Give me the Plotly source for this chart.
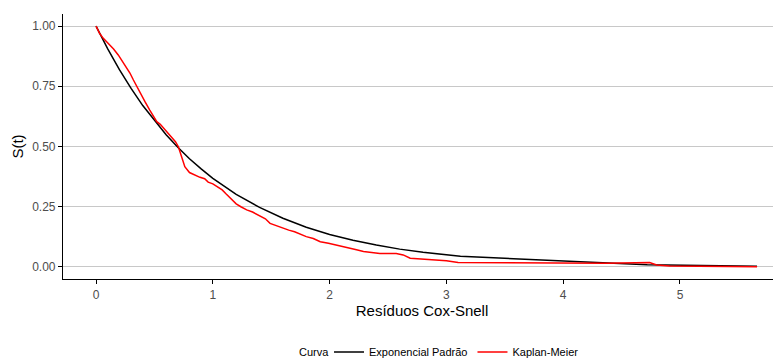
import plotly.graph_objects as go

# Kaplan-Meier curve
km_x = [0.0, 0.03, 0.06, 0.09, 0.12, 0.15, 0.19, 0.22, 0.26, 0.29, 0.32, 0.35, 0.39, 0.42,
        0.46, 0.49, 0.52, 0.55, 0.58, 0.61, 0.65, 0.68, 0.705, 0.73, 0.76,
        0.80, 0.85, 0.89, 0.93, 0.96, 1.00, 1.04, 1.08, 1.11, 1.15, 1.20, 1.24, 1.29, 1.34, 1.40,
        1.45, 1.49, 1.55, 1.60, 1.65, 1.70, 1.75, 1.80, 1.86, 1.92,
        1.99, 2.06, 2.12, 2.17, 2.23, 2.29, 2.36, 2.43, 2.57, 2.63, 2.69, 2.78, 2.86, 3.00, 3.10,
        3.57, 4.00, 4.37, 4.74, 4.80, 4.91, 5.66]
km_y = [1.0, 0.97, 0.95, 0.935, 0.92, 0.905, 0.88, 0.858, 0.824, 0.805, 0.776, 0.748, 0.707, 0.685,
        0.651, 0.625, 0.603, 0.592, 0.575, 0.556, 0.534, 0.52, 0.499, 0.458, 0.416,
        0.392, 0.38, 0.372, 0.366, 0.352, 0.345, 0.333, 0.32, 0.305, 0.285, 0.262, 0.25, 0.237, 0.228, 0.213,
        0.2, 0.181, 0.17, 0.16, 0.153, 0.146, 0.136, 0.126, 0.118, 0.105,
        0.098, 0.091, 0.085, 0.078, 0.071, 0.064, 0.059, 0.056, 0.056, 0.05, 0.036, 0.033, 0.029, 0.026, 0.019,
        0.018, 0.015, 0.015, 0.018, 0.008, 0.004, 0.001]

# Standard exponential curve
exp_x = [0.0, 0.1, 0.2, 0.3, 0.4, 0.5, 0.6, 0.7, 0.8, 0.9, 1.0, 1.2, 1.4, 1.6, 1.8, 2.0,
         2.2, 2.4, 2.6, 2.8, 3.0, 3.12, 4.72, 5.66]
exp_y = [1.0, 0.905, 0.819, 0.741, 0.670, 0.607, 0.549, 0.497, 0.449, 0.407, 0.368, 0.301,
         0.247, 0.202, 0.165, 0.135, 0.111, 0.091, 0.074, 0.061, 0.050, 0.044, 0.009, 0.003]

x_ticks = [0, 1, 2, 3, 4, 5]
y_ticks = [0.0, 0.25, 0.5, 0.75, 1.0]
y_tick_labels = ["0.00", "0.25", "0.50", "0.75", "1.00"]

fig = go.Figure()
fig.add_trace(go.Scatter(x=exp_x, y=exp_y, mode="lines", name="Exponencial Padrão",
                         line=dict(color="black", width=1.5)))
fig.add_trace(go.Scatter(x=km_x, y=km_y, mode="lines", name="Kaplan-Meier",
                         line=dict(color="#FF0000", width=1.5)))

fig.add_annotation(text="Curva", xref="paper", yref="paper", x=0.3496, y=-0.2755,
                   xanchor="center", yanchor="middle", showarrow=False,
                   font=dict(size=11, color="black"))

# page body has an 8px default margin, so the figure is sized to fit the window
fig.update_layout(
    width=773, height=350,
    margin=dict(l=55, r=0, t=6, b=79, autoexpand=False),
    plot_bgcolor="white", paper_bgcolor="white",
    font=dict(family="Liberation Sans, Arial, sans-serif", color="black"),
    showlegend=True,
    legend=dict(orientation="h", x=0.3705, xanchor="left", y=-0.2755, yanchor="middle",
                font=dict(size=11), bgcolor="rgba(0,0,0,0)"),
    xaxis=dict(range=[-0.283, 5.865], tickvals=x_ticks, showgrid=False, zeroline=False,
               showline=True, linecolor="black", linewidth=1.2, automargin=False,
               ticks="outside", ticklen=4, tickcolor="black", tickwidth=1,
               tickfont=dict(size=12, color="#4d4d4d"),
               title=dict(text="Resíduos Cox-Snell", font=dict(size=15), standoff=3)),
    yaxis=dict(range=[-0.05, 1.05], tickvals=y_ticks, ticktext=y_tick_labels,
               showgrid=True, gridcolor="#c8c8c8", gridwidth=1, zeroline=False,
               showline=True, linecolor="black", linewidth=1.2, automargin=False,
               ticks="outside", ticklen=4, tickcolor="black", tickwidth=1,
               tickfont=dict(size=12, color="#4d4d4d"),
               title=dict(text="S(t)", font=dict(size=15), standoff=4)),
)

fig.write_html("out.html")
